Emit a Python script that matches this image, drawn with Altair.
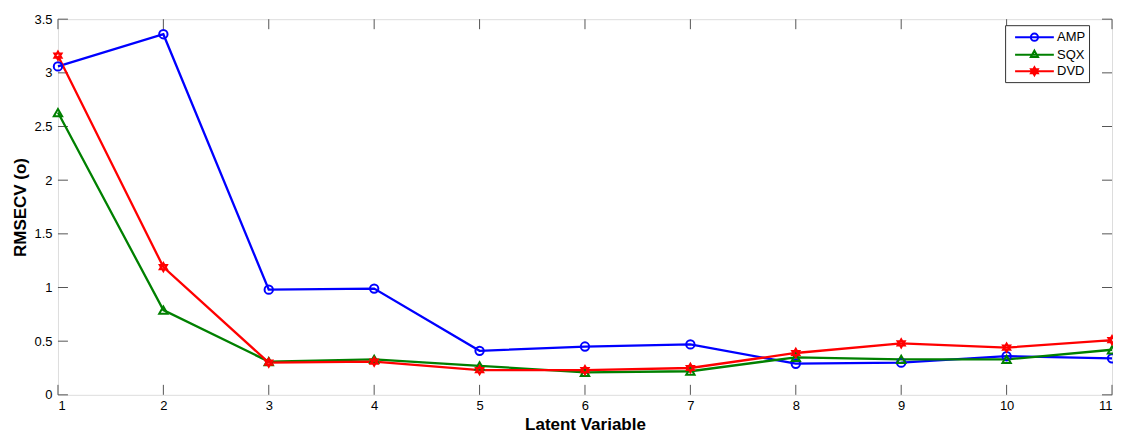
import altair as alt
import pandas as pd

latent = [1, 2, 3, 4, 5, 6, 7, 8, 9, 10, 11]
amp = [3.06, 3.36, 0.98, 0.99, 0.41, 0.45, 0.47, 0.29, 0.30, 0.36, 0.34]
sqx = [2.63, 0.79, 0.31, 0.33, 0.27, 0.21, 0.22, 0.35, 0.33, 0.33, 0.42]
dvd = [3.16, 1.19, 0.30, 0.31, 0.23, 0.23, 0.25, 0.39, 0.48, 0.44, 0.51]
series_names = ["AMP", "SQX", "DVD"]
series_colors = ["#0000FF", "#008000", "#FF0000"]
x_ticks = [1, 2, 3, 4, 5, 6, 7, 8, 9, 10, 11]
y_ticks = [0, 0.5, 1, 1.5, 2, 2.5, 3, 3.5]

rows = []
for name, vals in zip(series_names, [amp, sqx, dvd]):
    for x, v in zip(latent, vals):
        rows.append({"lv": x, "rmsecv": v, "series": name})
df = pd.DataFrame(rows)

W, H = 1055, 376
hexagram = "M0,-1L0.866,0.5L-0.866,0.5ZM0,1L0.866,-0.5L-0.866,-0.5Z"
plot_shapes = ["circle", "triangle-up", hexagram]
# legend glyphs: line segment with the marker in its middle (unit = 8px)
legend_shapes = [
    "M-0.25,0L4.6,0M1.72,0A0.45,0.45 0 1,0 2.62,0A0.45,0.45 0 1,0 1.72,0",
    "M-0.25,0L4.6,0M2.17,-0.5L2.62,0.3L1.72,0.3Z",
    "M-0.25,0L4.6,0M2.17,-0.5L2.6,0.25L1.74,0.25ZM2.17,0.5L2.6,-0.25L1.74,-0.25Z",
]

xscale = alt.Scale(domain=[1, 11], nice=False)
yscale = alt.Scale(domain=[0, 3.5], nice=False)
xaxis = alt.Axis(values=x_ticks, format="d", title="Latent Variable",
                 tickSize=0, domain=False, grid=False, labelPadding=5,
                 labelFontSize=13, labelFont="Liberation Sans", labelColor="#000",
                 titleFontSize=17, titleFont="Liberation Sans", titleFontWeight="bold",
                 titleY=35, titleBaseline="alphabetic", titleColor="#000")
yaxis = alt.Axis(values=y_ticks, format="~g", title="RMSECV (o)",
                 tickSize=0, domain=False, grid=False, labelPadding=6,
                 labelFontSize=13, labelFont="Liberation Sans", labelColor="#000",
                 titleFontSize=17, titleFont="Liberation Sans", titleFontWeight="bold",
                 titlePadding=4, titleColor="#000")

stroke_enc = alt.Stroke("series:N", scale=alt.Scale(domain=series_names, range=series_colors), legend=None)

color_expr = "'" + series_colors[-1] + "'"
for n, c in reversed(list(zip(series_names[:-1], series_colors[:-1]))):
    color_expr = f"datum.value === '{n}' ? '{c}' : ({color_expr})"

legend = alt.Legend(
    title=None, orient="none", legendX=948, legendY=6,
    symbolOpacity=1, symbolSize=256, symbolStrokeWidth=2,
    symbolFillColor="transparent", labelFontSize=13,
    symbolStrokeColor=alt.ExprRef(color_expr),
    labelFont="Liberation Sans", labelColor="#000",
    strokeColor="#333", fillColor="white", padding=3,
    rowPadding=0.5, labelOffset=31,
)

base = alt.Chart(df)
lines = base.mark_line(strokeWidth=2.3).encode(
    x=alt.X("lv:Q", scale=xscale, axis=xaxis),
    y=alt.Y("rmsecv:Q", scale=yscale, axis=yaxis),
    stroke=stroke_enc,
    detail="series:N",
)
points = base.mark_point(filled=False, strokeWidth=2, size=70, opacity=1).encode(
    x=alt.X("lv:Q", scale=xscale),
    y=alt.Y("rmsecv:Q", scale=yscale),
    stroke=stroke_enc,
    shape=alt.Shape("series:N", scale=alt.Scale(domain=series_names, range=plot_shapes), legend=None),
)
legend_layer = base.mark_point(filled=False, opacity=0, strokeWidth=2).encode(
    x=alt.X("lv:Q", scale=xscale),
    y=alt.Y("rmsecv:Q", scale=yscale),
    shape=alt.Shape("series:N", scale=alt.Scale(domain=series_names, range=legend_shapes),
                    legend=legend),
)

xt = pd.DataFrame({"t": x_ticks})
yt = pd.DataFrame({"t": y_ticks})
tick_color = "#555"
bottom_ticks = alt.Chart(xt).mark_rule(color=tick_color, strokeWidth=1).encode(
    x=alt.X("t:Q", scale=xscale), y=alt.value(H), y2=alt.value(H - 10))
top_ticks = alt.Chart(xt).mark_rule(color=tick_color, strokeWidth=1).encode(
    x=alt.X("t:Q", scale=xscale), y=alt.value(0), y2=alt.value(10))
left_ticks = alt.Chart(yt).mark_rule(color=tick_color, strokeWidth=1).encode(
    y=alt.Y("t:Q", scale=yscale), x=alt.value(0), x2=alt.value(10))
right_ticks = alt.Chart(yt).mark_rule(color=tick_color, strokeWidth=1).encode(
    y=alt.Y("t:Q", scale=yscale), x=alt.value(W - 10), x2=alt.value(W))

chart = alt.layer(
    bottom_ticks, top_ticks, left_ticks, right_ticks, lines, points, legend_layer
).resolve_scale(shape="independent").properties(
    width=W, height=H,
    autosize=alt.AutoSizeParams(type="none"),
    padding={"left": 50, "top": 11, "right": 1, "bottom": 38},
).configure_view(stroke="#555", strokeWidth=1).configure(background="white")

chart.save("out.html", embed_options={"renderer": "svg", "actions": False})
